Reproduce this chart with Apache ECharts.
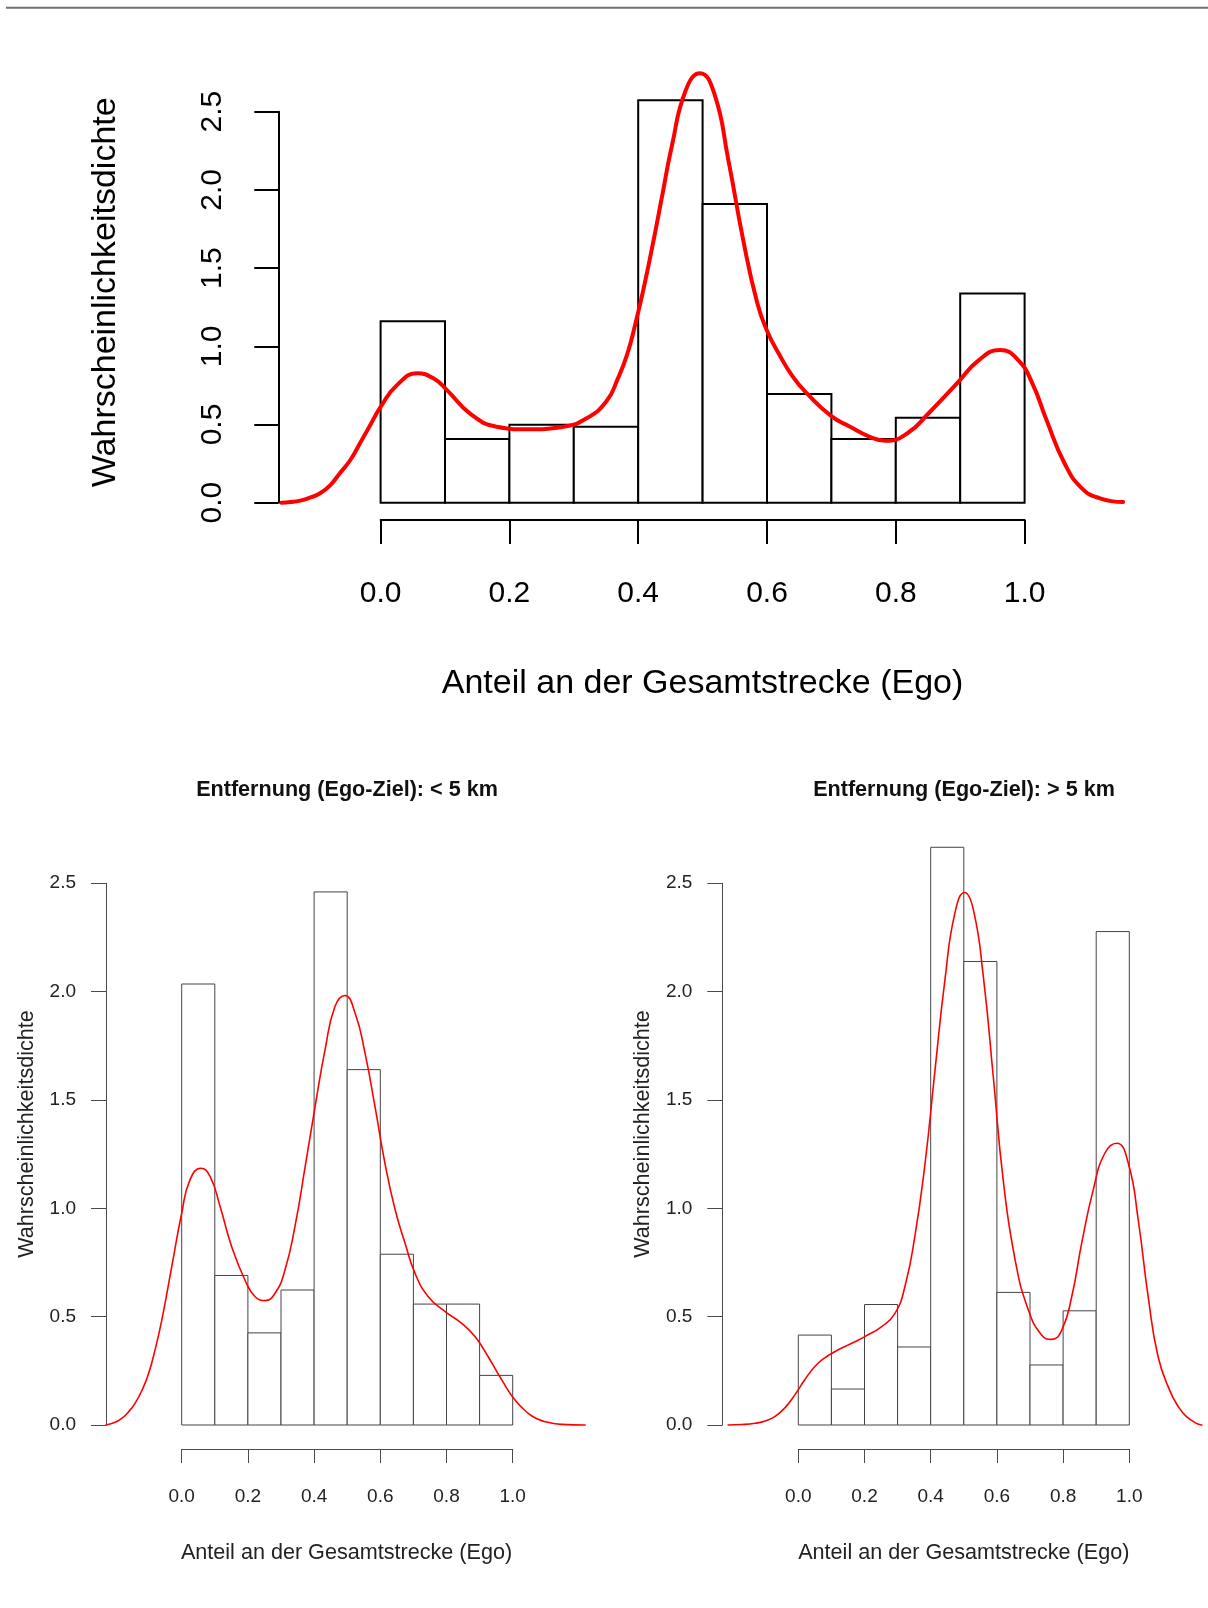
<!DOCTYPE html>
<html>
<head>
<meta charset="utf-8">
<script src="https://cdn.jsdelivr.net/npm/echarts@6/dist/echarts.min.js"></script>
<style>
html,body{margin:0;padding:0;background:#ffffff;}
#chart{width:1208px;height:1608px;}
</style>
</head>
<body>
<div id="chart"></div>
<script>
// ---------------- DATA ----------------
const binEdges = [0, 0.1, 0.2, 0.3, 0.4, 0.5, 0.6, 0.7, 0.8, 0.9, 1.0];

// histogram densities (per bin)
const allHist  = [1.160, 0.407, 0.498, 0.485, 2.573, 1.910, 0.695, 0.408, 0.543, 1.338];
const nearHist = [2.035, 0.690, 0.425, 0.623, 2.460, 1.640, 0.788, 0.558, 0.558, 0.229];
const farHist  = [0.415, 0.166, 0.556, 0.360, 2.666, 2.139, 0.612, 0.277, 0.527, 2.277];

// kernel density curves: [x, density]
const allCurve = [
  [-0.154,0.000],[-0.140,0.004],[-0.125,0.013],[-0.110,0.032],[-0.094,0.060],[-0.078,0.113],
  [-0.063,0.190],[-0.047,0.273],[-0.032,0.380],[-0.016,0.497],[0.000,0.612],[0.025,0.750],
  [0.057,0.827],[0.082,0.795],[0.103,0.720],[0.139,0.570],[0.180,0.486],[0.227,0.469],
  [0.284,0.486],[0.320,0.540],[0.351,0.650],[0.368,0.790],[0.383,0.950],[0.396,1.150],
  [0.410,1.400],[0.424,1.680],[0.438,1.980],[0.452,2.276],[0.474,2.639],[0.496,2.746],
  [0.518,2.618],[0.540,2.191],[0.563,1.680],[0.585,1.275],[0.600,1.100],[0.618,0.955],
  [0.640,0.806],[0.662,0.699],[0.701,0.550],[0.729,0.486],[0.757,0.426],[0.784,0.396],
  [0.818,0.444],[0.851,0.572],[0.895,0.763],[0.929,0.912],[0.962,0.976],[0.990,0.912],
  [1.012,0.763],[1.034,0.529],[1.062,0.252],[1.089,0.092],[1.117,0.028],[1.153,0.004]
];
const nearCurve = [
  [-0.229,0.000],[-0.205,0.010],[-0.181,0.031],[-0.161,0.060],[-0.141,0.100],[-0.120,0.160],
  [-0.100,0.238],[-0.080,0.350],[-0.060,0.485],[-0.030,0.731],[0.000,0.977],[0.025,1.131],
  [0.058,1.185],[0.086,1.146],[0.116,1.008],[0.151,0.823],[0.191,0.669],[0.222,0.592],
  [0.252,0.574],[0.282,0.608],[0.312,0.715],[0.342,0.915],[0.373,1.192],[0.403,1.469],
  [0.433,1.731],[0.463,1.931],[0.493,1.982],[0.524,1.900],[0.554,1.715],[0.584,1.469],
  [0.614,1.208],[0.645,0.992],[0.675,0.838],[0.705,0.700],[0.745,0.592],[0.796,0.523],
  [0.846,0.469],[0.886,0.408],[0.926,0.315],[0.967,0.208],[1.007,0.115],[1.047,0.054],
  [1.075,0.028],[1.098,0.015],[1.148,0.003],[1.219,0.000]
];
const farCurve = [
  [-0.212,0.000],[-0.170,0.002],[-0.130,0.008],[-0.100,0.018],[-0.070,0.040],[-0.040,0.080],
  [-0.010,0.140],[0.020,0.210],[0.050,0.270],[0.080,0.310],[0.110,0.338],[0.141,0.362],
  [0.171,0.384],[0.201,0.408],[0.252,0.454],[0.292,0.515],[0.322,0.638],[0.352,0.869],
  [0.383,1.208],[0.413,1.638],[0.443,2.054],[0.473,2.362],[0.502,2.457],[0.529,2.377],
  [0.559,2.069],[0.589,1.608],[0.619,1.131],[0.655,0.762],[0.695,0.531],[0.735,0.415],
  [0.765,0.395],[0.796,0.438],[0.826,0.592],[0.856,0.838],[0.891,1.085],[0.926,1.254],
  [0.962,1.300],[0.997,1.208],[1.027,0.946],[1.057,0.592],[1.087,0.315],[1.122,0.160],
  [1.150,0.080],[1.172,0.040],[1.200,0.010],[1.219,0.000]
];

const xTickLabels = ['0.0', '0.2', '0.4', '0.6', '0.8', '1.0'];
const yTickLabels = ['0.0', '0.5', '1.0', '1.5', '2.0', '2.5'];

const yTitle = 'Wahrscheinlichkeitsdichte';
const xTitle = 'Anteil an der Gesamtstrecke (Ego)';
const nearTitle = 'Entfernung (Ego-Ziel): < 5 km';
const farTitle  = 'Entfernung (Ego-Ziel): > 5 km';

// ---------------- LAYOUT ----------------
const FONT = "'Liberation Sans', Arial, Helvetica, sans-serif";

const panels = [
  { hist: allHist, curve: allCurve, axisX: 278.3, zeroX: 380.6, ux: 644, zeroY: 502.7, uy: 156.4,
    xmax: 1.2, xAxisY: 520,
    st: { axis: '#000000', lw: 2, tick: 24, xtick: 24, fs: 30, txt: '#000000', bar: '#000000', barW: 2,
          curveW: 4, yRot: 90, yMargin: 50.8, xMargin: 58.7 } },
  { hist: nearHist, curve: nearCurve, axisX: 106, zeroX: 181.7, ux: 331, zeroY: 1425, uy: 216.7,
    xmax: 1.25, xAxisY: 1449,
    st: { axis: '#4a4a4a', lw: 1, tick: 15, xtick: 14, fs: 19, txt: '#222222', bar: '#444444', barW: 1,
          curveW: 1.6, yRot: 0, yMargin: 30, xMargin: 38 } },
  { hist: farHist, curve: farCurve, axisX: 722.3, zeroX: 798.3, ux: 331, zeroY: 1425, uy: 216.7,
    xmax: 1.25, xAxisY: 1449,
    st: { axis: '#4a4a4a', lw: 1, tick: 15, xtick: 14, fs: 19, txt: '#222222', bar: '#444444', barW: 1,
          curveW: 1.6, yRot: 0, yMargin: 30, xMargin: 38 } }
];

const grid = [], xAxis = [], yAxis = [], series = [];

panels.forEach((p, i) => {
  const s = p.st;
  const xmin = (p.axisX - p.zeroX) / p.ux;
  const dataGrid = 2 * i, axisGrid = 2 * i + 1;
  grid.push({ left: p.axisX, top: p.zeroY - 2.5 * p.uy, width: (p.xmax - xmin) * p.ux,
              height: 2.5 * p.uy, containLabel: false, outerBoundsMode: 'none' });
  grid.push({ left: p.zeroX, top: p.xAxisY - 20, width: p.ux, height: 20,
              containLabel: false, outerBoundsMode: 'none' });

  xAxis.push({ gridIndex: dataGrid, type: 'value', min: xmin, max: p.xmax, show: false });
  yAxis.push({ gridIndex: dataGrid, type: 'value', min: 0, max: 2.5, interval: 0.5, position: 'left',
    axisLine: { show: true, onZero: false, lineStyle: { color: s.axis, width: s.lw } },
    axisTick: { show: true, length: s.tick, lineStyle: { color: s.axis, width: s.lw } },
    splitLine: { show: false },
    axisLabel: { show: true, rotate: s.yRot, margin: s.yMargin, fontFamily: FONT, fontSize: s.fs,
                 color: s.txt, showMinLabel: true, showMaxLabel: true,
                 formatter: v => yTickLabels[Math.round(v / 0.5)] } });

  xAxis.push({ gridIndex: axisGrid, type: 'value', min: 0, max: 1, interval: 0.2, position: 'bottom',
    axisLine: { show: true, onZero: false, lineStyle: { color: s.axis, width: s.lw } },
    axisTick: { show: true, length: s.xtick, lineStyle: { color: s.axis, width: s.lw } },
    splitLine: { show: false },
    axisLabel: { show: true, margin: s.xMargin, fontFamily: FONT, fontSize: s.fs, color: s.txt,
                 showMinLabel: true, showMaxLabel: true,
                 formatter: v => xTickLabels[Math.round(v / 0.2)] } });
  yAxis.push({ gridIndex: axisGrid, type: 'value', min: 0, max: 1, show: false });

  const histData = p.hist.map((h, k) => [binEdges[k], binEdges[k + 1], h]);
  series.push({
    type: 'custom', xAxisIndex: dataGrid, yAxisIndex: dataGrid, z: 2, clip: false,
    dimensions: ['x0', 'x1', 'density'],
    encode: { x: [0, 1], y: 2 },
    data: histData,
    renderItem: (params, api) => {
      const a = api.coord([api.value(0), 0]);
      const b = api.coord([api.value(1), api.value(2)]);
      return { type: 'rect',
        shape: { x: a[0], y: b[1], width: b[0] - a[0], height: a[1] - b[1] },
        style: { fill: '#ffffff', stroke: s.bar, lineWidth: s.barW } };
    }
  });
  series.push({
    type: 'line', xAxisIndex: dataGrid, yAxisIndex: dataGrid, z: 3, clip: false,
    data: p.curve, smooth: 0.5, symbol: 'none', showSymbol: false,
    lineStyle: { color: '#ff0000', width: s.curveW, cap: 'round', join: 'round' }
  });
});

function txt(text, x, y, size, opts) {
  opts = opts || {};
  return { type: 'text', x: x, y: y, rotation: opts.rot || 0, z: 10,
    style: { text: text, font: (opts.bold ? 'bold ' : '') + size + 'px ' + FONT,
             fill: opts.color || '#000', align: 'center', verticalAlign: 'middle' } };
}

const graphic = [
  { type: 'line', shape: { x1: 6, y1: 7.7, x2: 1208, y2: 7.7 }, style: { stroke: '#707070', lineWidth: 2 } },
  txt(yTitle, 106, 292.3, 34, { rot: Math.PI / 2 }),
  txt(xTitle, 702.5, 684, 34),
  txt(nearTitle, 347, 790, 21.6, { bold: true, color: '#111' }),
  txt(farTitle, 964, 790, 21.6, { bold: true, color: '#111' }),
  txt(yTitle, 27.5, 1134, 21.6, { rot: Math.PI / 2, color: '#222' }),
  txt(yTitle, 643, 1134, 21.6, { rot: Math.PI / 2, color: '#222' }),
  txt(xTitle, 346.5, 1553.5, 21.6, { color: '#222' }),
  txt(xTitle, 963.8, 1553.5, 21.6, { color: '#222' })
];

const chart = echarts.init(document.getElementById('chart'), null, { renderer: 'canvas' });
chart.setOption({
  backgroundColor: '#ffffff',
  animation: false,
  grid: grid, xAxis: xAxis, yAxis: yAxis, series: series, graphic: graphic
});
</script>
</body>
</html>
